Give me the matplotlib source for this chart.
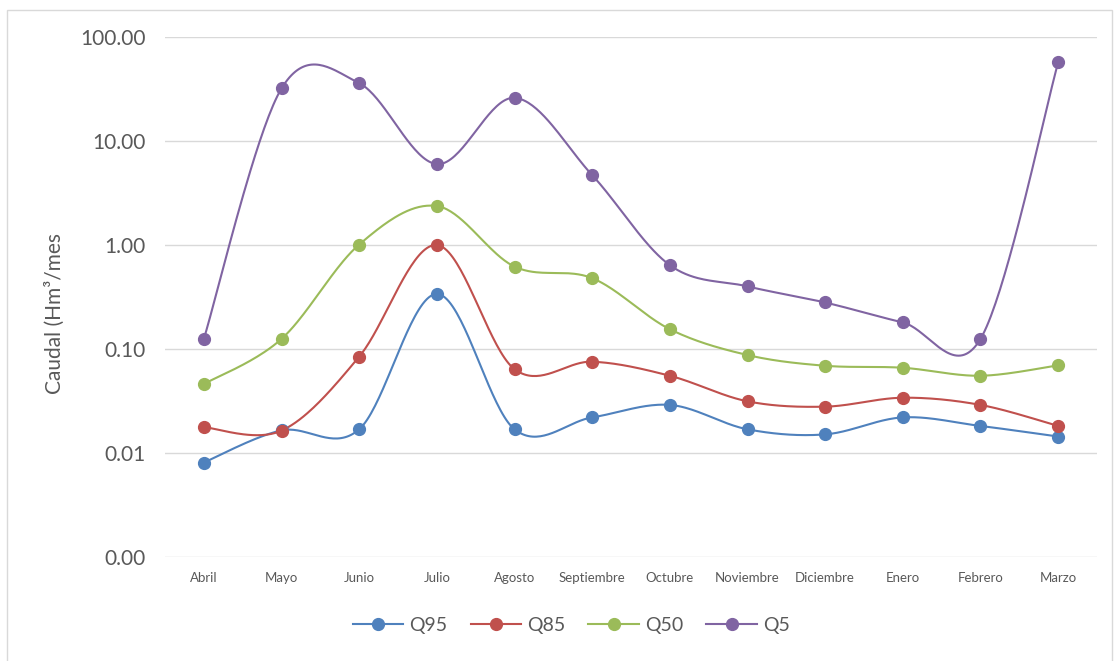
import numpy as np
import matplotlib
matplotlib.use("Agg")
import matplotlib.pyplot as plt
import matplotlib.ticker as ticker
from matplotlib.lines import Line2D
from matplotlib.patches import Rectangle

meses = ['Abril', 'Mayo', 'Junio', 'Julio', 'Agosto', 'Septiembre',
         'Octubre', 'Noviembre', 'Diciembre', 'Enero', 'Febrero', 'Marzo']

q95 = [0.0081, 0.0165, 0.0169, 0.338, 0.0169, 0.0220,
       0.0290, 0.0169, 0.0151, 0.0220, 0.0182, 0.0144]
q85 = [0.0177, 0.0164, 0.0843, 1.00, 0.0640, 0.0755,
       0.0553, 0.0314, 0.0279, 0.0340, 0.0290, 0.0182]
q50 = [0.046, 0.125, 1.01, 2.37, 0.62, 0.48,
       0.155, 0.0875, 0.069, 0.066, 0.0553, 0.0697]
q5 = [0.125, 32.0, 36.0, 6.0, 26.0, 4.7,
      0.64, 0.40, 0.28, 0.18, 0.125, 57.0]

series = [('Q95', q95, '#4F81BD'),
          ('Q85', q85, '#C0504D'),
          ('Q50', q50, '#9BBB59'),
          ('Q5', q5, '#8064A2')]


def suavizar(y, n=40):
    # curva tipo Excel: bezier con tangentes de Catmull-Rom en escala log
    ly = np.log10(y)
    x = np.arange(len(ly), dtype=float)
    px = np.concatenate([[x[0]], x, [x[-1]]])
    py = np.concatenate([[ly[0]], ly, [ly[-1]]])
    t = np.linspace(0, 1, n)
    xs, ys = [], []
    for i in range(len(ly) - 1):
        p0 = np.array([px[i + 1], py[i + 1]])
        p3 = np.array([px[i + 2], py[i + 2]])
        c1 = p0 + (p3 - np.array([px[i], py[i]])) / 6
        c2 = p3 - (np.array([px[i + 3], py[i + 3]]) - p0) / 6
        b = ((1 - t) ** 3)[:, None] * p0 + (3 * (1 - t) ** 2 * t)[:, None] * c1 \
            + (3 * (1 - t) * t ** 2)[:, None] * c2 + (t ** 3)[:, None] * p3
        xs.append(b[:, 0])
        ys.append(b[:, 1])
    return np.concatenate(xs), 10 ** np.concatenate(ys)


plt.rcParams['font.family'] = ['Lato', 'DejaVu Sans']

fig = plt.figure(figsize=(11.2, 6.61), dpi=100)
fig.patches.append(Rectangle((7 / 1120, -0.01), 1105 / 1120, 1 - 10 / 661 + 0.01,
                             transform=fig.transFigure, fill=False,
                             edgecolor='#D9D9D9', linewidth=1))
ax = fig.add_axes([165 / 1120, 1 - 557 / 661, 932 / 1120, 520 / 661])

x = np.arange(len(meses))
handles = []
for nombre, valores, color in series:
    xs, ys = suavizar(valores)
    ax.plot(xs, ys, color=color, linewidth=1.5, zorder=3)
    ax.plot(x, valores, 'o', color=color, markersize=8.5, zorder=4)
    handles.append(Line2D([], [], color=color, linewidth=1.5, marker='o',
                          markersize=8.5, label=nombre))

ax.set_yscale('log')
ax.set_ylim(0.001, 100)
ax.set_xlim(-0.5, len(meses) - 0.5)
ax.yaxis.set_major_locator(ticker.LogLocator(base=10, numticks=10))
ax.yaxis.set_minor_locator(ticker.NullLocator())
ax.yaxis.set_major_formatter(ticker.FuncFormatter(lambda v, p: '{:.2f}'.format(v)))
ax.set_xticks(x)
ax.set_xticklabels(meses)

ax.grid(axis='y', color='#D9D9D9', linewidth=1)
ax.set_axisbelow(True)
for s in ax.spines.values():
    s.set_visible(False)
ax.tick_params(axis='y', length=0, pad=14, labelsize=15, labelcolor='#595959')
ax.tick_params(axis='x', length=0, pad=11, labelsize=9.5, labelcolor='#595959')

ax.set_ylabel('Caudal (Hm³/mes', fontsize=15, color='#595959')
ax.yaxis.set_label_coords(-0.107, 0.468)

fig.legend(handles=handles, loc='center', bbox_to_anchor=(0.51, 1 - 625 / 661),
           ncol=4, frameon=False, fontsize=14, handlelength=2.6,
           handletextpad=0.3, columnspacing=1.2, labelcolor='#595959')

plt.savefig('out.png', dpi=100)
